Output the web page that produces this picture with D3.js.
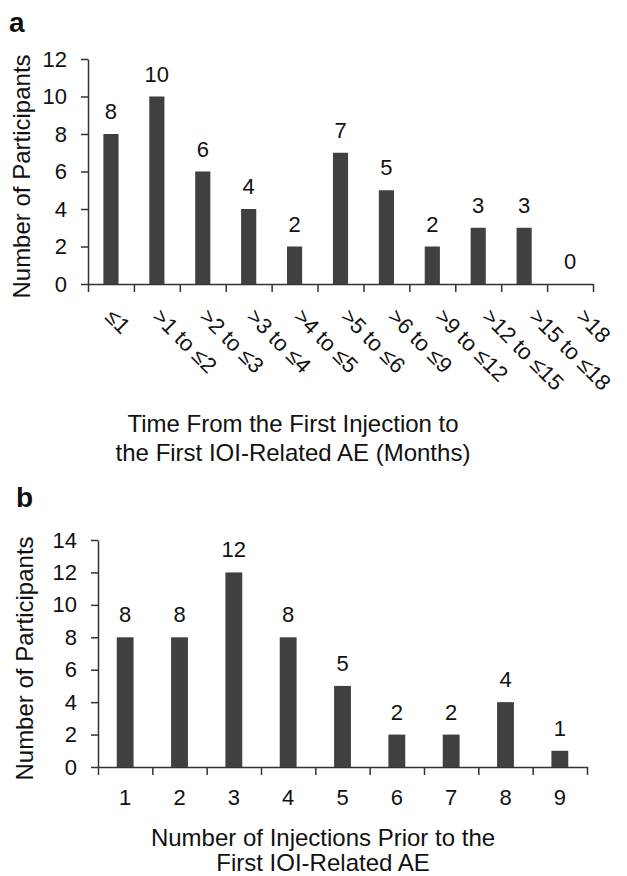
<!DOCTYPE html>
<html>
<head>
<meta charset="utf-8">
<script src="https://cdn.jsdelivr.net/npm/d3@7"></script>
<style>
  body { margin: 0; background: #fff; }
  text { font-family: "Liberation Sans", Arial, sans-serif; fill: #111; }
</style>
</head>
<body>
<div id="chart"></div>
<script>
// ---- data ----
var time_categories = ['≤1', '>1 to ≤2', '>2 to ≤3', '>3 to ≤4', '>4 to ≤5', '>5 to ≤6',
  '>6 to ≤9', '>9 to ≤12', '>12 to ≤15', '>15 to ≤18', '>18'];
var time_values = [8, 10, 6, 4, 2, 7, 5, 2, 3, 3, 0];
var time_ticks = [0, 2, 4, 6, 8, 10, 12];

var inj_categories = ['1', '2', '3', '4', '5', '6', '7', '8', '9'];
var inj_values = [8, 8, 12, 8, 5, 2, 2, 4, 1];
var inj_ticks = [0, 2, 4, 6, 8, 10, 12, 14];

// ---- layout ----
const width = 627, height = 876;
const tick_font = 22, title_font = 24;
const bar_color = '#404040';
const axis_color = '#333';

var svg = d3.select('#chart').append('svg')
  .attr('width', width)
  .attr('height', height);

function draw_panel(opt) {
  var g = svg.append('g');

  var x = d3.scaleBand()
    .domain(opt.categories)
    .range([opt.left, opt.right])
    .paddingInner(opt.pad)
    .paddingOuter(opt.pad / 2);

  var y = d3.scaleLinear()
    .domain([0, opt.ymax])
    .range([opt.bottom, opt.top]);

  // category boundary ticks
  var bounds = d3.scaleLinear()
    .domain([0, opt.categories.length])
    .range([opt.left, opt.right]);

  var xAxis = g.append('g')
    .attr('transform', `translate(0,${opt.bottom})`)
    .call(d3.axisBottom(bounds)
      .tickValues(d3.range(opt.categories.length + 1))
      .tickFormat('')
      .tickSize(8)
      .tickSizeOuter(0));
  xAxis.selectAll('path, line')
    .attr('stroke', axis_color)
    .attr('stroke-width', 1.5);

  var yAxis = g.append('g')
    .attr('transform', `translate(${opt.left},0)`)
    .call(d3.axisLeft(y)
      .tickValues(opt.ticks)
      .tickSize(7)
      .tickSizeOuter(0)
      .tickPadding(14));
  yAxis.selectAll('path, line')
    .attr('stroke', axis_color)
    .attr('stroke-width', 1.5);
  yAxis.selectAll('text')
    .style('font-size', tick_font + 'px')
    .style('font-family', '"Liberation Sans", Arial, sans-serif')
    .attr('fill', '#111');

  // bars
  g.selectAll('rect.bar')
    .data(opt.values)
    .enter().append('rect')
    .attr('class', 'bar')
    .attr('x', (d, i) => x(opt.categories[i]))
    .attr('y', d => y(d))
    .attr('width', x.bandwidth())
    .attr('height', d => opt.bottom - y(d))
    .attr('fill', bar_color);

  // value labels
  g.selectAll('text.value')
    .data(opt.values)
    .enter().append('text')
    .attr('class', 'value')
    .attr('x', (d, i) => x(opt.categories[i]) + x.bandwidth() / 2)
    .attr('y', d => y(d) - 15)
    .attr('text-anchor', 'middle')
    .style('font-size', tick_font + 'px')
    .text(d => d);

  // y title
  g.append('text')
    .attr('transform', `translate(${opt.ytitle_x},${(opt.top + opt.bottom) / 2 + 5}) rotate(-90)`)
    .attr('text-anchor', 'middle')
    .style('font-size', title_font + 'px')
    .text('Number of Participants');

  // x title
  opt.xtitle.forEach(function(line, i) {
    g.append('text')
      .attr('x', opt.xtitle_x)
      .attr('y', opt.xtitle_y + i * opt.xtitle_gap)
      .attr('text-anchor', 'middle')
      .style('font-size', title_font + 'px')
      .text(line);
  });

  // panel letter
  g.append('text')
    .attr('x', opt.letter[0])
    .attr('y', opt.letter[1])
    .style('font-size', '28px')
    .style('font-weight', 'bold')
    .text(opt.letter_text);

  return x;
}

// panel a
var xa = draw_panel({
  categories: time_categories, values: time_values, ticks: time_ticks,
  left: 88, right: 593, top: 59, bottom: 284, ymax: 12, pad: 0.67,
  ytitle_x: 30, xtitle: ['Time From the First Injection to', 'the First IOI-Related AE (Months)'],
  xtitle_x: 293, xtitle_y: 432, xtitle_gap: 29, letter: [9, 32], letter_text: 'a'
});

// rotated category labels for panel a
var label_x = d3.scalePoint()
  .domain(time_categories)
  .range([104, 575]);

svg.append('g').selectAll('text')
  .data(time_categories)
  .enter().append('text')
  .attr('transform', d => `translate(${label_x(d)},318) rotate(45)`)
  .attr('text-anchor', 'start')
  .style('font-size', tick_font + 'px')
  .text(d => d);

// panel b
var xb = draw_panel({
  categories: inj_categories, values: inj_values, ticks: inj_ticks,
  left: 98, right: 587, top: 540, bottom: 767, ymax: 14, pad: 0.69,
  ytitle_x: 33, xtitle: ['Number of Injections Prior to the', 'First IOI-Related AE'],
  xtitle_x: 323, xtitle_y: 846, xtitle_gap: 25, letter: [16, 507], letter_text: 'b'
});

svg.append('g').selectAll('text')
  .data(inj_categories)
  .enter().append('text')
  .attr('x', d => xb(d) + xb.bandwidth() / 2)
  .attr('y', 805)
  .attr('text-anchor', 'middle')
  .style('font-size', tick_font + 'px')
  .text(d => d);
</script>
</body>
</html>
